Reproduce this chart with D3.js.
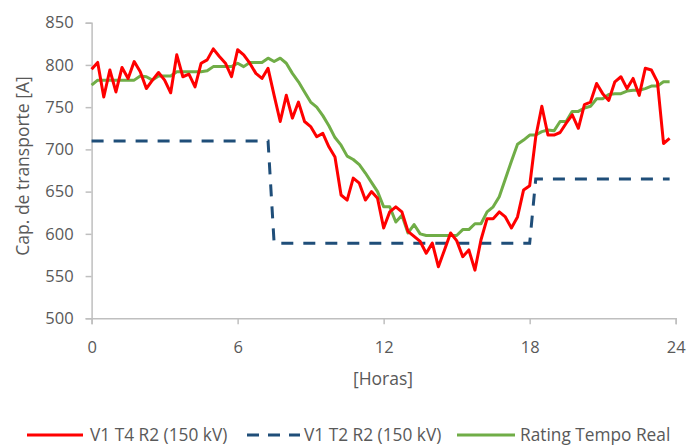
<!DOCTYPE html>
<html>
<head>
<meta charset="utf-8">
<script src="https://cdn.jsdelivr.net/npm/d3@7"></script>
<style>
  html, body { margin: 0; padding: 0; background: #ffffff; }
  svg { display: block; font-family: "Open Sans", "Noto Sans", sans-serif; }
</style>
</head>
<body>
<svg id="chart" width="688" height="445"></svg>
<script>
// ---- data (15-minute samples, index i -> hour i/4) ----
const redValues = [
  795, 803, 762, 794, 768, 797, 784, 804, 792, 772,
  782, 791, 782, 767, 812, 786, 789, 774, 802, 806,
  819, 810, 802, 786, 818, 812, 802, 790, 784, 796,
  764, 733, 764, 737, 756, 733, 727, 715, 719, 703,
  691, 646, 640, 666, 660, 640, 650, 642, 607, 626,
  632, 626, 603, 597, 591, 577, 589, 561, 581, 601,
  592, 573, 581, 557, 593, 618, 618, 626, 620, 607,
  620, 652, 657, 715, 751, 717, 717, 720, 731, 741,
  725, 753, 756, 778, 766, 758, 780, 786, 772, 784,
  764, 796, 794, 780, 707, 713
];
const greenValues = [
  776, 782, 782, 782, 782, 782, 782, 782, 787, 786,
  782, 787, 787, 787, 792, 792, 792, 792, 792, 793,
  798, 798, 798, 798, 802, 798, 803, 803, 803, 808,
  804, 808, 802, 790, 780, 768, 756, 750, 740, 728,
  714, 705, 692, 688, 682, 672, 661, 650, 632, 632,
  614, 622, 601, 611, 600, 598, 598, 598, 598, 598,
  598, 605, 605, 612, 612, 626, 632, 644, 665, 686,
  706, 711, 717, 717, 721, 723, 722, 733, 733, 745,
  745, 749, 751, 760, 760, 765, 766, 766, 769, 770,
  770, 772, 775, 775, 780, 780
];
const blueHours  = [0, 7.25, 7.5, 18, 18.25, 23.75];
const blueValues = [710, 710, 589, 589, 665, 665];

const xTicks = [0, 6, 12, 18, 24];
const yTicks = [500, 550, 600, 650, 700, 750, 800, 850];
const seriesNames = ["V1 T4 R2 (150 kV)", "V1 T2 R2 (150 kV)", "Rating Tempo Real"];
const xTitle = "[Horas]";
const yTitle = "Cap. de transporte [A]";

// ---- layout ----
const svg = d3.select("#chart");
const plotLeft = 91.6, plotRight = 675.7, plotTop = 22.7, plotBottom = 318.3;
const axisColor = "#BFBFBF", textColor = "#595959";
const colors = ["#FF0000", "#1F4E79", "#70AD47"];

const x = d3.scaleLinear().domain([0, 24]).range([plotLeft, plotRight]);
const y = d3.scaleLinear().domain([500, 850]).range([plotBottom, plotTop]);

const hours = redValues.map((_, i) => i / 4);

// axes
const yAxis = d3.axisLeft(y).tickValues(yTicks).tickSize(6).tickPadding(12).tickFormat(d3.format("d"));
const xAxis = d3.axisBottom(x).tickValues(xTicks).tickSize(6).tickPadding(17).tickFormat(d3.format("d"));

const gy = svg.append("g").attr("transform", `translate(${plotLeft},0)`).call(yAxis);
const gx = svg.append("g").attr("transform", `translate(0,${plotBottom})`).call(xAxis);
[gx, gy].forEach(g => {
  g.selectAll(".domain").attr("stroke", axisColor).attr("stroke-width", 1.5);
  g.selectAll(".tick line").attr("stroke", axisColor).attr("stroke-width", 1.5);
  g.selectAll(".tick text").attr("fill", textColor).style("font-size", "16.5px")
    .style("font-family", '"Open Sans", sans-serif');
});

// titles
svg.append("text")
  .attr("transform", `translate(29,166) rotate(-90)`)
  .attr("text-anchor", "middle")
  .attr("fill", textColor)
  .style("font-size", "17.5px")
  .text(yTitle);

svg.append("text")
  .attr("x", 383).attr("y", 385)
  .attr("text-anchor", "middle")
  .attr("fill", textColor)
  .style("font-size", "17.5px")
  .text(xTitle);

// lines
const line = d3.line().x(d => x(d[0])).y(d => y(d[1]));

svg.append("path")
  .datum(blueHours.map((h, i) => [h, blueValues[i]]))
  .attr("d", line)
  .attr("fill", "none")
  .attr("stroke", colors[1])
  .attr("stroke-width", 3)
  .attr("stroke-dasharray", "12,10");

svg.append("path")
  .datum(hours.map((h, i) => [h, greenValues[i]]))
  .attr("d", line)
  .attr("fill", "none")
  .attr("stroke", colors[2])
  .attr("stroke-width", 3)
  .attr("stroke-linejoin", "round");

svg.append("path")
  .datum(hours.map((h, i) => [h, redValues[i]]))
  .attr("d", line)
  .attr("fill", "none")
  .attr("stroke", colors[0])
  .attr("stroke-width", 3)
  .attr("stroke-linejoin", "round");

// legend
const legendY = 435;
const legendItems = [
  { x1: 27, x2: 83, tx: 90, dash: null },
  { x1: 247, x2: 300, tx: 304, dash: "12,9" },
  { x1: 457, x2: 515, tx: 520, dash: null }
];
const lg = svg.append("g");
legendItems.forEach((it, i) => {
  lg.append("line")
    .attr("x1", it.x1).attr("x2", it.x2)
    .attr("y1", legendY).attr("y2", legendY)
    .attr("stroke", colors[i]).attr("stroke-width", 3)
    .attr("stroke-dasharray", it.dash);
  lg.append("text")
    .attr("x", it.tx).attr("y", legendY)
    .attr("dy", "0.35em")
    .attr("fill", textColor)
    .style("font-size", "17.3px")
    .text(seriesNames[i]);
});
</script>
</body>
</html>
